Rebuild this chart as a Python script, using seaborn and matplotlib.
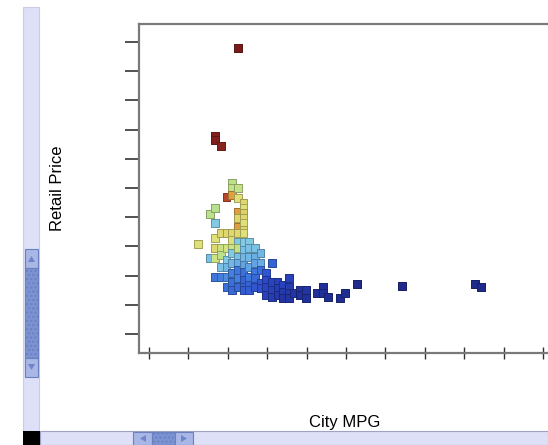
import numpy as np
import pandas as pd
import matplotlib
matplotlib.use("Agg")
import matplotlib.pyplot as plt
from matplotlib.colors import LinearSegmentedColormap, to_rgba
from matplotlib.patches import Rectangle, Polygon
import seaborn as sns

# ---- data: one square per car model ----
city_mpg = [
    17, 13, 13, 14,
    10,
    12, 12,
    13, 13, 13, 13, 13, 13,
    14, 14, 14, 14, 14,
    15, 15, 15, 15, 15, 15, 15,
    16, 16, 16, 16, 16, 16, 16, 16, 16, 16, 16,
    17, 17, 17, 17, 17, 17, 17, 17, 17, 17, 17, 17, 17,
    18, 18, 18, 18, 18, 18, 18, 18, 18, 18, 18, 18, 18, 18, 18,
    19, 19, 19, 19, 19, 19, 19,
    20, 20, 20, 20, 20, 20,
    21, 21, 21, 21, 21,
    22, 22, 22, 22,
    23, 23, 23, 23,
    24, 24, 24,
    25, 25, 25,
    26, 26, 26, 26,
    27,
    28, 28,
    29, 29,
    31,
    32, 32,
    33,
    35,
    36,
    38,
    46,
    59, 60,
]
retail_price = [
    192465, 128440, 125530, 121160,
    49850,
    71680, 39660,
    76050, 65130, 54220, 46940, 39660, 25830,
    57860, 46940, 41840, 33100, 25830,
    84050, 57860, 46940, 38200, 33100, 25830, 18560,
    94230, 90600, 85500, 57860, 52760, 46940, 43300, 36020, 28740, 22190, 16370,
    90600, 83320, 73140, 68770, 62220, 57860, 51310, 46940, 40390, 36020, 30930, 25110, 18560,
    79690, 76050, 72410, 68770, 65130, 60040, 57860, 51310, 45480, 40390, 34560, 29470, 23650, 18560, 16370,
    51310, 46940, 40390, 33100, 25830, 20010, 16370,
    46940, 40390, 36020, 29470, 25110, 18560,
    43300, 36020, 30930, 21470, 17830,
    28740, 23650, 18560, 12740,
    36020, 22190, 16370, 11280,
    22190, 17830, 12740,
    20010, 14920, 10550,
    25110, 18560, 14190, 10550,
    14190,
    16370, 12740,
    16370, 10550,
    14190,
    18560, 14190,
    11280,
    10550,
    14190,
    20740,
    19280,
    20740, 18560,
]
horsepower = [
    480, 470, 470, 460,
    285,
    255, 210,
    250, 215, 285, 290, 270, 175,
    290, 265, 255, 210, 180,
    390, 290, 275, 215, 205, 185, 170,
    255, 260, 330, 290, 285, 270, 215, 205, 180, 170, 165,
    260, 285, 330, 290, 330, 290, 215, 260, 210, 200, 175, 180, 165,
    290, 285, 295, 290, 285, 290, 285, 215, 210, 205, 195, 170, 160, 160, 155,
    215, 210, 205, 195, 175, 160, 155,
    210, 200, 195, 175, 165, 150,
    205, 200, 170, 150, 145,
    150, 140, 135, 130,
    160, 135, 130, 125,
    130, 125, 120,
    130, 120, 115,
    130, 125, 120, 115,
    115,
    115, 110,
    115, 110,
    110,
    110, 108,
    105,
    105,
    105,
    100,
    100,
    100, 100,
]

cars = pd.DataFrame({"City MPG": city_mpg,
                     "Retail Price": retail_price,
                     "Horsepower": horsepower})

W, H = 548, 445
fig = plt.figure(figsize=(W / 100, H / 100), dpi=100)
fig.patch.set_facecolor("white")


def px_rect(x0, y0, x1, y1, **kw):
    """Rectangle given in pixel coordinates measured from the top-left corner."""
    r = Rectangle((x0 / W, 1 - y1 / H), (x1 - x0) / W, (y1 - y0) / H,
                  transform=fig.transFigure, **kw)
    fig.add_artist(r)
    return r


def px_poly(points, **kw):
    pts = [(x / W, 1 - y / H) for x, y in points]
    p = Polygon(pts, closed=True, transform=fig.transFigure, **kw)
    fig.add_artist(p)
    return p


# plot area: left spine at x=139, top at y=24, bottom at y=353; runs past the right edge
ax = fig.add_axes([139 / W, (H - 353) / H, (560 - 139) / W, 329 / H])
ax.set_facecolor("white")

x_lo, x_hi = -0.48, 73.97
y_lo, y_hi = -29470, 209940

cmap = LinearSegmentedColormap.from_list("heat", [
    (0.00, "#1f2a8a"),
    (0.10, "#2a47c8"),
    (0.20, "#3f78dc"),
    (0.27, "#6fb3e6"),
    (0.32, "#8dd6e3"),
    (0.40, "#b9e08c"),
    (0.48, "#dfe47a"),
    (0.60, "#e0a040"),
    (0.76, "#b8482a"),
    (1.00, "#7a1a1a"),
])
hue_lo, hue_hi = 100, 480
face = [cmap((h - hue_lo) / (hue_hi - hue_lo)) for h in horsepower]
edges = [tuple(np.array(to_rgba(c)[:3]) * 0.72) + (1.0,) for c in face]

sns.scatterplot(data=cars, x="City MPG", y="Retail Price", hue="Horsepower",
                palette=cmap, hue_norm=(hue_lo, hue_hi), marker="s", s=32,
                edgecolor=edges, linewidth=0.7, legend=False, ax=ax, zorder=3)

ax.set_xlim(x_lo, x_hi)
ax.set_ylim(y_lo, y_hi)
ax.set_xlabel("")
ax.set_ylabel("")

# evenly spaced unlabeled ticks
ax.set_xticks(np.linspace(1.29, 70.96, 11))
ax.set_yticks(np.linspace(-15646, 196843, 11))
ax.set_xticklabels([])
ax.set_yticklabels([])
ax.tick_params(axis="x", direction="inout", length=8, width=1.0, color="#333333")
ax.tick_params(axis="y", direction="out", length=10, width=1.2, color="#333333")

for side in ("left", "bottom", "top"):
    ax.spines[side].set_color("#7a7a7a")
    ax.spines[side].set_linewidth(1.6)
ax.spines["right"].set_visible(False)

font = ["Liberation Sans", "DejaVu Sans"]
fig.text(345 / W, 1 - 423 / H, "City MPG", ha="center", va="center",
         fontsize=12, family=font, color="black")
fig.text(57 / W, 1 - 188 / H, "Retail Price", ha="center", va="center",
         rotation=90, fontsize=12, family=font, color="black")

# ---- window chrome: scroll bars ----
lav = "#dde0f7"
px_rect(23, 7, 39, 431, facecolor=lav, edgecolor="#c9cce8", linewidth=0.8)
px_rect(40, 431, 548, 445, facecolor=lav, edgecolor="#9fa2c4", linewidth=0.8)
px_rect(23, 431, 40, 445, facecolor="black", edgecolor="none")

btn = "#a8b7e6"
btn_edge = "#6b80bf"
thumb = "#7c93d3"
# vertical scroll bar
px_rect(25, 249, 38, 268, facecolor=btn, edgecolor=btn_edge, linewidth=0.8)
px_rect(25, 268, 38, 358, facecolor=thumb, edgecolor=btn_edge, linewidth=0.8,
        hatch="....")
px_rect(25, 358, 38, 377, facecolor=btn, edgecolor=btn_edge, linewidth=0.8)
px_poly([(28, 262), (31.5, 256), (35, 262)], facecolor="#6f85c8", edgecolor="none")
px_poly([(28, 364), (31.5, 370), (35, 364)], facecolor="#6f85c8", edgecolor="none")
# horizontal scroll bar
px_rect(133, 432, 152, 445, facecolor=btn, edgecolor=btn_edge, linewidth=0.8)
px_rect(152, 432, 175, 445, facecolor=thumb, edgecolor=btn_edge, linewidth=0.8,
        hatch="....")
px_rect(175, 432, 193, 445, facecolor=btn, edgecolor=btn_edge, linewidth=0.8)
px_poly([(146, 435), (140, 438.5), (146, 442)], facecolor="#6f85c8", edgecolor="none")
px_poly([(181, 435), (187, 438.5), (181, 442)], facecolor="#6f85c8", edgecolor="none")

fig.savefig("out.png", dpi=100, facecolor="white")
